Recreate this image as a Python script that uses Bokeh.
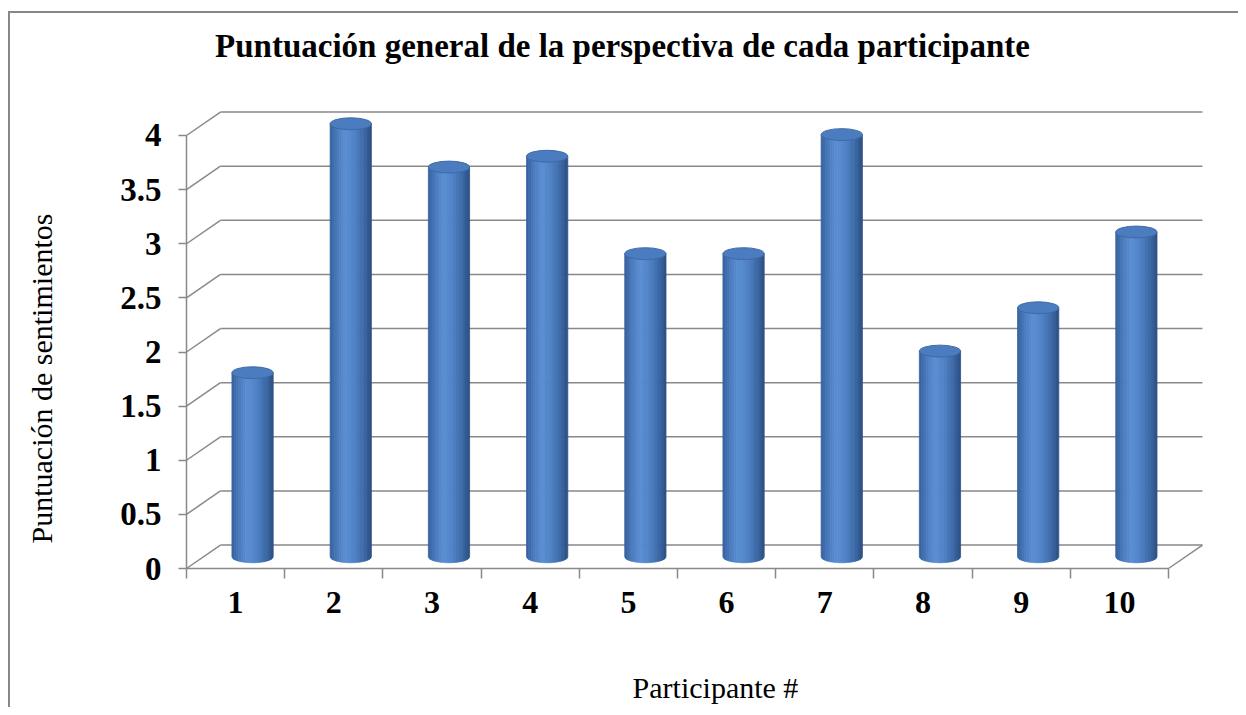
import numpy as np
from bokeh.plotting import figure
from bokeh.models import FixedTicker, Range1d
from bokeh.core.properties import value
from bokeh.embed import file_html
from bokeh.resources import INLINE

# ---------------- data ----------------
participants = [1, 2, 3, 4, 5, 6, 7, 8, 9, 10]
scores = [1.7, 4.0, 3.6, 3.7, 2.8, 2.8, 3.9, 1.9, 2.3, 3.0]
y_ticks = [0, 0.5, 1, 1.5, 2, 2.5, 3, 3.5, 4]
y_tick_labels = ["0", "0.5", "1", "1.5", "2", "2.5", "3", "3.5", "4"]
x_tick_labels = [str(v) for v in participants]

chart_title = "Puntuación general de la perspectiva de cada participante"
x_title = "Participante #"
y_title = "Puntuación de sentimientos"

# ---------------- style / geometry ----------------
FONT = "Liberation Serif"
GRAY = "#898989"
DX = 0.346   # 3D depth along x (category units)
DY = 0.217   # 3D depth along y (value units)
BAR_W = 0.42
ELL_H = 0.11

x_lo = participants[0] - 0.5
x_hi = participants[-1] + 0.5
y_lo = y_ticks[0]
y_hi = y_ticks[-1]

# the plotting area covers the whole chart; the axes sit at the 3D front edges
p = figure(
    frame_width=1228, frame_height=694,
    x_range=Range1d(-1.292, 11.213),
    y_range=Range1d(-1.284, 5.127),
    output_backend="svg", toolbar_location=None,
    min_border=0,
)
p.styles = {"border-left": "2px solid #878787", "border-top": "2px solid #878787"}
p.margin = (11, 0, 0, 8)
p.title.visible = False
p.xgrid.visible = False
p.ygrid.visible = False
p.outline_line_color = None
p.background_fill_color = "white"
p.border_fill_color = "white"

# y axis
ya = p.yaxis[0]
ya.fixed_location = x_lo
ya.ticker = FixedTicker(ticks=y_ticks)
ya.major_label_overrides = {float(t): l for t, l in zip(y_ticks, y_tick_labels)}
ya.bounds = (y_lo, y_hi)
ya.axis_line_color = GRAY
ya.axis_line_width = 1.5
ya.major_tick_line_color = GRAY
ya.major_tick_line_width = 1.5
ya.major_tick_out = 8
ya.major_tick_in = 0
ya.minor_tick_out = 0
ya.minor_tick_in = 0
ya.major_label_text_font = FONT
ya.major_label_text_font_style = "bold"
ya.major_label_text_font_size = "33px"
ya.major_label_text_color = "black"
ya.major_label_standoff = 17

# x axis
xa = p.xaxis[0]
xa.fixed_location = y_lo
xa.ticker = FixedTicker(ticks=participants,
                        minor_ticks=[v - 0.5 for v in participants] + [participants[-1] + 0.5])
xa.major_label_overrides = {float(v): l for v, l in zip(participants, x_tick_labels)}
xa.bounds = (x_lo, x_hi)
xa.axis_line_color = GRAY
xa.axis_line_width = 1.5
xa.major_tick_out = 0
xa.major_tick_in = 0
xa.minor_tick_line_color = GRAY
xa.minor_tick_line_width = 1.5
xa.minor_tick_out = 10
xa.minor_tick_in = 0
xa.major_label_text_font = FONT
xa.major_label_text_font_style = "bold"
xa.major_label_text_font_size = "32px"
xa.major_label_text_color = "black"
xa.major_label_standoff = 13

# ---------------- titles (positions in chart coordinates) ----------------
TITLE_X, TITLE_Y = 4.94, 4.831
XT_X, XT_Y = 5.887, -1.099
YT_X, YT_Y = -0.977, 1.755

p.text(x=[TITLE_X], y=[TITLE_Y], text=[chart_title], text_align="center",
       text_baseline="middle", text_font=value(FONT), text_font_style="bold",
       text_font_size="33px", text_color="black")
p.text(x=[XT_X], y=[XT_Y], text=[x_title], text_align="center",
       text_baseline="middle", text_font=value(FONT), text_font_size="30px",
       text_color="black")
p.text(x=[YT_X], y=[YT_Y], text=[y_title], angle=np.pi / 2, text_align="center",
       text_baseline="middle", text_font=value(FONT), text_font_size="30px",
       text_color="black")

# ---------------- 3D walls ----------------
# back wall gridlines
p.segment(x0=[x_lo + DX] * len(y_ticks), y0=[t + DY for t in y_ticks],
          x1=[x_hi + DX] * len(y_ticks), y1=[t + DY for t in y_ticks],
          line_color=GRAY, line_width=1.5)
# left wall diagonals
p.segment(x0=[x_lo] * len(y_ticks), y0=y_ticks,
          x1=[x_lo + DX] * len(y_ticks), y1=[t + DY for t in y_ticks],
          line_color=GRAY, line_width=1.5)
# floor right edge
p.segment(x0=[x_hi], y0=[y_lo], x1=[x_hi + DX], y1=[y_lo + DY],
          line_color=GRAY, line_width=1.5)

# ---------------- cylinders ----------------
def hex2rgb(h):
    h = h.lstrip("#")
    return np.array([int(h[i:i + 2], 16) for i in (0, 2, 4)], dtype=float)

stops = [(0.0, "#36609c"), (0.18, "#4a7bbd"), (0.38, "#5b8fd3"),
         (0.6, "#4f82c6"), (0.85, "#3b67a4"), (1.0, "#2b4f82")]

def shade(t):
    for (t0, c0), (t1, c1) in zip(stops[:-1], stops[1:]):
        if t0 <= t <= t1:
            f = (t - t0) / (t1 - t0)
            c = hex2rgb(c0) * (1 - f) + hex2rgb(c1) * f
            return "#%02x%02x%02x" % tuple(int(round(v)) for v in c)
    return stops[-1][1]

N = 18
xs, ys, cols = [], [], []
for xc0, v in zip(participants, scores):
    xc = xc0 + DX / 2
    base = DY / 2
    top = v + DY / 2
    for k in range(N):
        a = xc - BAR_W / 2 + BAR_W * k / N
        b = xc - BAR_W / 2 + BAR_W * (k + 1) / N
        xx = np.linspace(a, b, 5)
        u = (xx - xc) / (BAR_W / 2)
        bot = base - (ELL_H / 2) * np.sqrt(np.clip(1 - u ** 2, 0, 1))
        xs.append([a, b] + list(xx[::-1]))
        ys.append([top, top] + list(bot[::-1]))
        cols.append(shade((k + 0.5) / N))

p.patches(xs=xs, ys=ys, fill_color=cols, line_color=cols, line_width=0.8)

p.ellipse(x=[v + DX / 2 for v in participants], y=[s + DY / 2 for s in scores],
          width=BAR_W, height=ELL_H, fill_color="#4b7cbf", line_color="#3e6aa6",
          line_width=1)

open("out.html", "w").write(file_html(p, INLINE))
